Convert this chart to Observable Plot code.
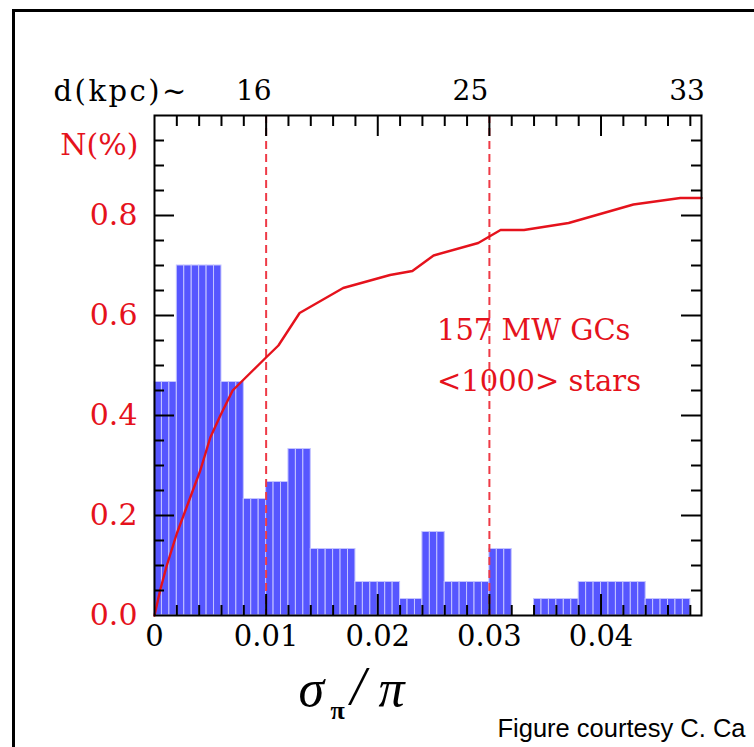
<!DOCTYPE html>
<html><head><meta charset="utf-8">
<script src="https://cdn.jsdelivr.net/npm/d3@7"></script>
<script src="https://cdn.jsdelivr.net/npm/@observablehq/plot@0.6"></script>
<style>
html,body{margin:0;padding:0;background:#fff;overflow:hidden;}
#wrap{position:relative;width:754px;height:747px;overflow:hidden;background:#fff;}
#chart{position:absolute;left:0;top:0;}
#border{position:absolute;left:12px;top:9px;width:900px;height:900px;border:3px solid #000;box-sizing:border-box;pointer-events:none;}
</style></head><body>
<div id="wrap"><div id="chart"></div><div id="border"></div></div>
<script>
// ---- data ----
const binStart = [0, 0.002, 0.004, 0.006, 0.008, 0.010, 0.012, 0.014, 0.016, 0.018, 0.020, 0.022,
                  0.024, 0.026, 0.028, 0.030, 0.032, 0.034, 0.036, 0.038, 0.040, 0.042, 0.044, 0.046];
const binValue = [0.467, 0.700, 0.700, 0.467, 0.233, 0.267, 0.333, 0.133, 0.133, 0.067, 0.067, 0.033,
                  0.167, 0.067, 0.067, 0.133, 0.000, 0.033, 0.033, 0.067, 0.067, 0.067, 0.033, 0.033];
const binWidth = 0.002;
const stripesPerBin = 3;

const curveX = [0, 0.0005, 0.0011, 0.0020, 0.0041, 0.0050, 0.0059, 0.0070, 0.0079, 0.0099, 0.0111, 0.0130,
                0.0169, 0.0211, 0.0231, 0.0250, 0.0290, 0.0310, 0.0331, 0.0371, 0.0429, 0.0471, 0.0490];
const curveY = [0, 0.050, 0.100, 0.164, 0.290, 0.356, 0.400, 0.450, 0.470, 0.514, 0.540, 0.605,
                0.655, 0.681, 0.689, 0.720, 0.745, 0.771, 0.771, 0.785, 0.822, 0.835, 0.835];

const dashedX = [0.01, 0.03];
const xLabelValues = [0, 0.01, 0.02, 0.03, 0.04];
const xLabelText = ["0", "0.01", "0.02", "0.03", "0.04"];
const yLabelValues = [0, 0.2, 0.4, 0.6, 0.8];
const yLabelText = ["0.0", "0.2", "0.4", "0.6", "0.8"];
const xMajorTicks = [0.01, 0.02, 0.03, 0.04];
const xMinorTicks = [0.002, 0.004, 0.006, 0.008, 0.012, 0.014, 0.016, 0.018, 0.022, 0.024, 0.026, 0.028,
                     0.032, 0.034, 0.036, 0.038, 0.042, 0.044, 0.046, 0.048];
const yMajorTicks = [0.2, 0.4, 0.6, 0.8];
const yMinorTicks = [0.05, 0.1, 0.15, 0.25, 0.3, 0.35, 0.45, 0.5, 0.55, 0.65, 0.7, 0.75, 0.85, 0.9, 0.95];
const distLabels = ["16", "25", "33"];
const distLabelX = [0.0089, 0.0283, 0.0477];
const noteLines = ["157 MW GCs", "<1000> stars"];
const noteX = [0.0253, 0.0253];
const noteY = [0.57, 0.468];

// ---- styles ----
const RED = "#e5121c";
const BLUE = "#5656ff";
const SERIF = "DejaVu Serif";
const TIMES = "Liberation Serif";
const W = 754, H = 747, ML = 154, MR = 53, MT = 115, MB = 132;
const FW = W - ML - MR, FH = H - MT - MB;

// histogram drawn as thin stripes (3 per bin) like the original
const stripes = [];
binStart.forEach((s, i) => {
  if (binValue[i] <= 0) return;
  for (let k = 0; k < stripesPerBin; k++) {
    stripes.push({x1: s + k * binWidth / stripesPerBin, x2: s + (k + 1) * binWidth / stripesPerBin, y: binValue[i]});
  }
});
const curve = curveX.map((x, i) => ({x, y: curveY[i]}));

const chart = Plot.plot({
  width: W, height: H,
  marginLeft: ML, marginRight: MR, marginTop: MT, marginBottom: MB,
  style: {background: "transparent", overflow: "visible"},
  x: {domain: [0, 0.049], axis: null},
  y: {domain: [0, 1], axis: null},
  marks: [
    Plot.rectY(stripes, {x1: "x1", x2: "x2", y: "y", fill: BLUE, stroke: "#c4c4ff", strokeWidth: 1}),
    Plot.ruleX(dashedX, {stroke: "#ee3a46", strokeWidth: 2, strokeDasharray: "8,5"}),
    Plot.line(curve, {x: "x", y: "y", stroke: RED, strokeWidth: 2.4}),
    // ticks (inward)
    Plot.ruleX(xMinorTicks, {insetTop: FH - 10, stroke: "#000", strokeWidth: 2}),
    Plot.ruleX(xMajorTicks, {insetTop: FH - 21, stroke: "#000", strokeWidth: 2}),
    Plot.ruleX(xMinorTicks, {insetBottom: FH - 11, stroke: "#000", strokeWidth: 2}),
    Plot.ruleX(xMajorTicks, {insetBottom: FH - 21, stroke: "#000", strokeWidth: 2}),
    Plot.ruleY(yMinorTicks, {insetRight: FW - 10, stroke: "#000", strokeWidth: 2}),
    Plot.ruleY(yMajorTicks, {insetRight: FW - 20, stroke: "#000", strokeWidth: 2}),
    Plot.ruleY(yMinorTicks, {insetLeft: FW - 10, stroke: "#000", strokeWidth: 2}),
    Plot.ruleY(yMajorTicks, {insetLeft: FW - 20, stroke: "#000", strokeWidth: 2}),
    Plot.frame({stroke: "#000", strokeWidth: 2}),
    // labels
    Plot.text(xLabelValues, {x: d => d, text: (d, i) => xLabelText[i], frameAnchor: "bottom", dy: 30,
      fontFamily: SERIF, fontSize: 29, fill: "#000"}),
    Plot.text(yLabelValues, {y: d => d, text: (d, i) => yLabelText[i], frameAnchor: "left", dx: -17,
      textAnchor: "end", fontFamily: SERIF, fontSize: 30, fill: RED}),
    Plot.text(["N(%)"], {frameAnchor: "top-left", dx: -16, dy: 18, textAnchor: "end",
      fontFamily: SERIF, fontSize: 30, fill: RED}),
    Plot.text(distLabels, {x: (d, i) => distLabelX[i], text: d => d, frameAnchor: "top", dy: -35,
      fontFamily: SERIF, fontSize: 28, fill: "#000"}),
    Plot.text(["d(kpc)~"], {frameAnchor: "top-left", dx: -101, dy: -35, textAnchor: "start",
      fontFamily: SERIF, fontSize: 29, fill: "#000"}),
    Plot.text(noteLines, {x: (d, i) => noteX[i], y: (d, i) => noteY[i], text: d => d, textAnchor: "start",
      fontFamily: SERIF, fontSize: 29, fill: RED}),
    // axis title sigma_pi / pi
    Plot.text(["σ"], {frameAnchor: "bottom-left", dx: 144, dy: 90, textAnchor: "start",
      fontFamily: TIMES, fontStyle: "italic", fontSize: 52, fill: "#000"}),
    Plot.text(["π"], {frameAnchor: "bottom-left", dx: 176, dy: 103, textAnchor: "start",
      fontFamily: TIMES, fontWeight: "bold", fontSize: 26, fill: "#000"}),
    Plot.text(["/"], {frameAnchor: "bottom-left", dx: 196, dy: 88, textAnchor: "start",
      fontFamily: TIMES, fontStyle: "italic", fontSize: 54, fill: "#000"}),
    Plot.text(["π"], {frameAnchor: "bottom-left", dx: 224, dy: 90, textAnchor: "start",
      fontFamily: TIMES, fontStyle: "italic", fontSize: 52, fill: "#000"}),
    Plot.text(["Figure courtesy C. Ca"], {frameAnchor: "bottom-left", dx: 343, dy: 121, textAnchor: "start",
      fontFamily: "Liberation Sans", fontSize: 25.5, fill: "#000"})
  ]
});
d3.select(chart).selectAll("text")
  .filter(function () { return this.textContent === "d(kpc)~"; })
  .attr("letter-spacing", 2.5);
document.getElementById("chart").appendChild(chart);
</script>
</body></html>
